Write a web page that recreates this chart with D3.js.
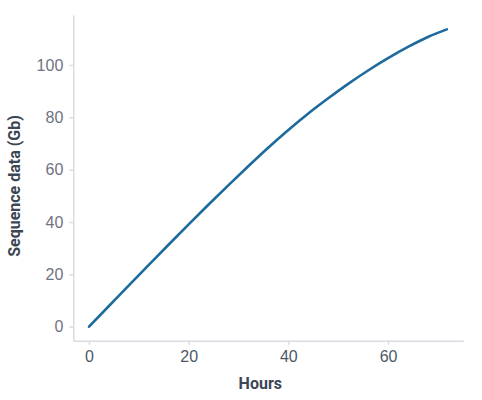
<!DOCTYPE html>
<html>
<head>
<meta charset="utf-8">
<script src="https://cdn.jsdelivr.net/npm/d3@7"></script>
<style>
  body { margin: 0; background: #fff; }
  svg { font-family: Roboto, "Noto Sans", sans-serif; }
  .axis path, .axis line { stroke: #dadbe3; stroke-width: 1.5; }
  .axis text { font-size: 16px; }
  .x-axis text { fill: #4d5866; }
  .y-axis text { fill: #72727f; }
  .axis-title { font-size: 16px; font-weight: bold; fill: #3c4654; }
</style>
</head>
<body>
<div id="chart"></div>
<script>
// values
var hours = [0, 4, 8, 12, 16, 20, 24, 28, 32, 36, 40, 44, 48, 52, 56, 60, 64, 68, 71.8];
var sequenceGb = [0, 7.9, 15.8, 23.6, 31.4, 39.1, 46.7, 54.1, 61.4, 68.5, 75.2, 81.5, 87.3, 92.8, 97.9, 102.6, 106.9, 110.7, 113.6];
var xTicks = [0, 20, 40, 60];
var yTicks = [0, 20, 40, 60, 80, 100];

var width = 482, height = 400;

var svg = d3.select("#chart").append("svg")
    .attr("width", width)
    .attr("height", height);

var x = d3.scaleLinear().domain([-3.15, 75.1]).range([73.3, 463.3]);
var y = d3.scaleLinear().domain([-5.35, 119.1]).range([340.7, 15]);

// axes
svg.append("g")
    .attr("class", "axis x-axis")
    .attr("transform", "translate(0," + y.range()[0] + ")")
    .call(d3.axisBottom(x).tickValues(xTicks).tickSize(4).tickSizeOuter(0).tickPadding(6));

svg.append("g")
    .attr("class", "axis y-axis")
    .attr("transform", "translate(" + x.range()[0] + ",0)")
    .call(d3.axisLeft(y).tickValues(yTicks).tickSize(4).tickSizeOuter(0).tickPadding(6));

// line
var data = hours.map(function(h, i) { return { h: h, v: sequenceGb[i] }; });

svg.append("path")
    .datum(data)
    .attr("fill", "none")
    .attr("stroke", "#1c6b9c")
    .attr("stroke-width", 2.6)
    .attr("stroke-linecap", "round")
    .attr("d", d3.line()
        .x(function(d) { return x(d.h); })
        .y(function(d) { return y(d.v); })
        .curve(d3.curveMonotoneX));

// axis titles
svg.append("text")
    .attr("class", "axis-title")
    .attr("x", 260.3)
    .attr("y", 389)
    .attr("text-anchor", "middle")
    .text("Hours");

svg.append("text")
    .attr("class", "axis-title")
    .attr("transform", "rotate(-90)")
    .attr("x", -186)
    .attr("y", 19.5)
    .attr("text-anchor", "middle")
    .text("Sequence data (Gb)");
</script>
</body>
</html>
